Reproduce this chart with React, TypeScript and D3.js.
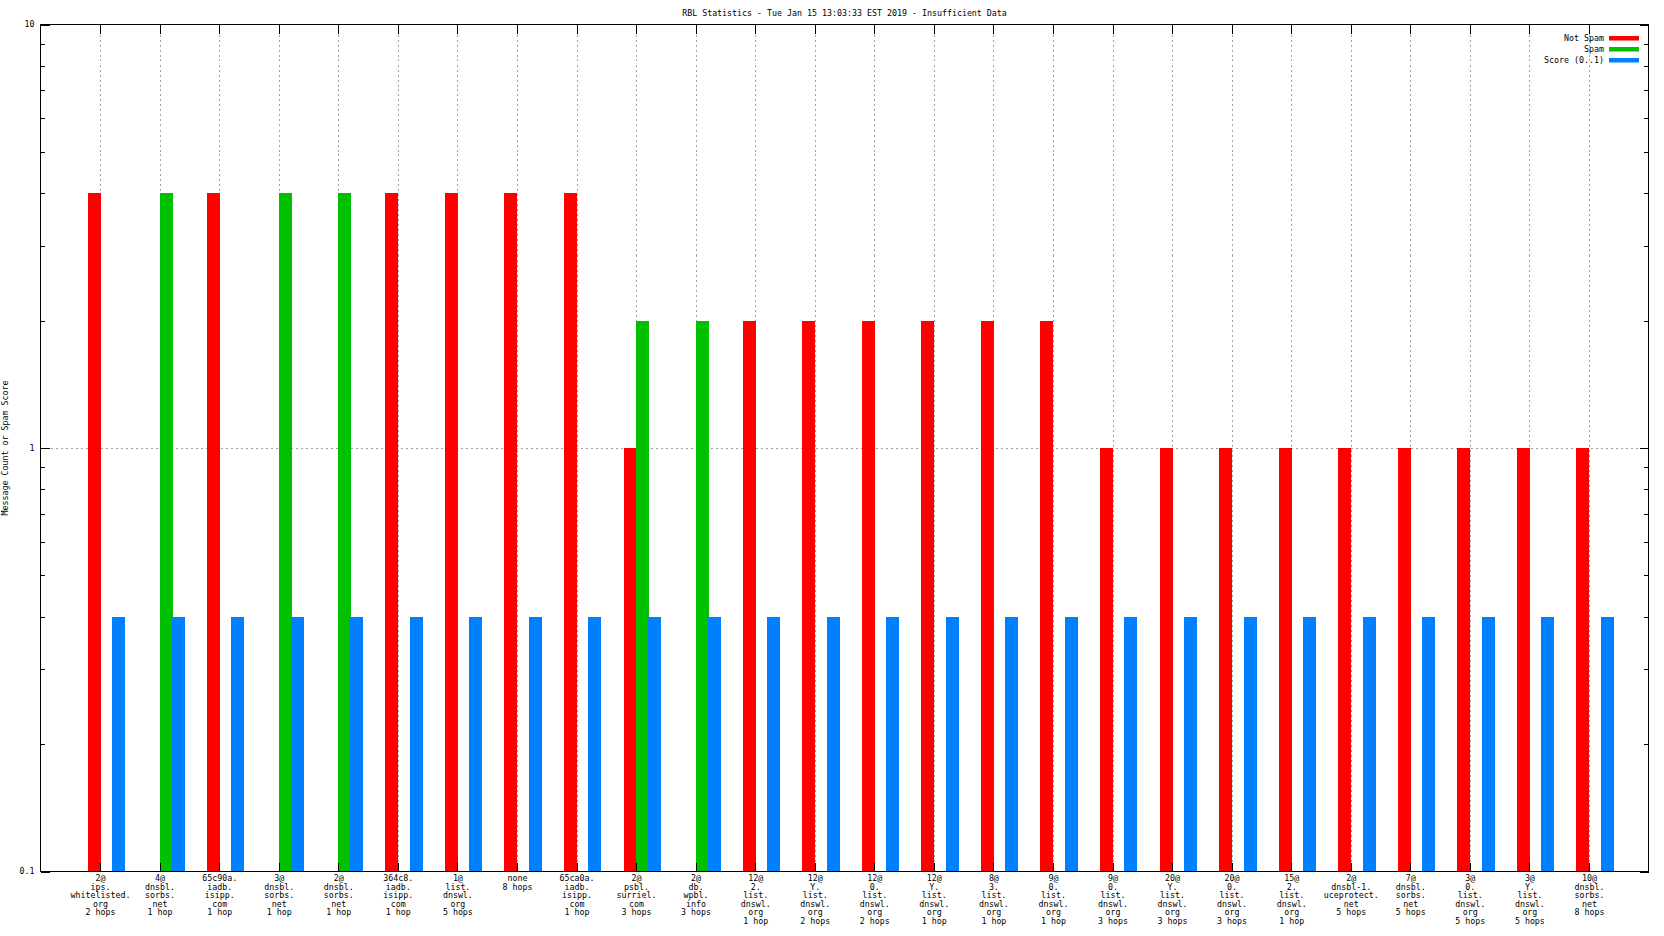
import React from "react";
import * as d3 from "d3";

const title = "RBL Statistics - Tue Jan 15 13:03:33 EST 2019 - Insufficient Data";
const yLabel = "Message Count or Spam Score";

const categories = [
  "2@\nips.\nwhitelisted.\norg\n2 hops",
  "4@\ndnsbl.\nsorbs.\nnet\n1 hop",
  "65c90a.\niadb.\nisipp.\ncom\n1 hop",
  "3@\ndnsbl.\nsorbs.\nnet\n1 hop",
  "2@\ndnsbl.\nsorbs.\nnet\n1 hop",
  "364c8.\niadb.\nisipp.\ncom\n1 hop",
  "1@\nlist.\ndnswl.\norg\n5 hops",
  "none\n8 hops",
  "65ca0a.\niadb.\nisipp.\ncom\n1 hop",
  "2@\npsbl.\nsurriel.\ncom\n3 hops",
  "2@\ndb.\nwpbl.\ninfo\n3 hops",
  "12@\n2.\nlist.\ndnswl.\norg\n1 hop",
  "12@\nY.\nlist.\ndnswl.\norg\n2 hops",
  "12@\n0.\nlist.\ndnswl.\norg\n2 hops",
  "12@\nY.\nlist.\ndnswl.\norg\n1 hop",
  "8@\n3.\nlist.\ndnswl.\norg\n1 hop",
  "9@\n0.\nlist.\ndnswl.\norg\n1 hop",
  "9@\n0.\nlist.\ndnswl.\norg\n3 hops",
  "20@\nY.\nlist.\ndnswl.\norg\n3 hops",
  "20@\n0.\nlist.\ndnswl.\norg\n3 hops",
  "15@\n2.\nlist.\ndnswl.\norg\n1 hop",
  "2@\ndnsbl-1.\nuceprotect.\nnet\n5 hops",
  "7@\ndnsbl.\nsorbs.\nnet\n5 hops",
  "3@\n0.\nlist.\ndnswl.\norg\n5 hops",
  "3@\nY.\nlist.\ndnswl.\norg\n5 hops",
  "10@\ndnsbl.\nsorbs.\nnet\n8 hops",
];

const notSpam = [4, 0, 4, 0, 0, 4, 4, 4, 4, 1, 0, 2, 2, 2, 2, 2, 2, 1, 1, 1, 1, 1, 1, 1, 1, 1];
const spam = [0, 4, 0, 4, 4, 0, 0, 0, 0, 2, 2, 0, 0, 0, 0, 0, 0, 0, 0, 0, 0, 0, 0, 0, 0, 0];
const score = [0.4, 0.4, 0.4, 0.4, 0.4, 0.4, 0.4, 0.4, 0.4, 0.4, 0.4, 0.4, 0.4, 0.4, 0.4, 0.4, 0.4, 0.4, 0.4, 0.4, 0.4, 0.4, 0.4, 0.4, 0.4, 0.4];

const yMajor = [0.1, 1, 10];
const yMajorLabels = ["0.1", "1", "10"];

const seriesNames = ["Not Spam", "Spam", "Score (0..1)"];
const seriesColors = ["#ff0000", "#00c000", "#0080ff"];

const W = 1664;
const H = 936;
const L = 40.5;
const R = 1648.5;
const T = 24.5;
const B = 871.5;
const FONT = "'DejaVu Sans Mono', monospace";

export default function App() {
  const x = d3.scaleLinear().domain([-1, 26]).range([L, R]);
  const y = d3.scaleLog().domain([0.1, 10]).range([B, T]);
  const unit = x(1) - x(0);
  const bw = 0.21 * unit;

  const minor: number[] = [];
  [0.1, 1].forEach((d) => {
    for (let k = 2; k <= 9; k++) minor.push(d * k);
  });

  const series = [notSpam, spam, score];
  const offsets = [-0.21, 0, 0.2];

  return (
    <svg
      width={W}
      height={H}
      style={{ position: "fixed", left: 0, top: 0, background: "#fff" }}
      fontFamily={FONT}
      fontSize={8.3}
    >
      <rect x={0} y={0} width={W} height={H} fill="#fff" />
      <g stroke="#a0a0a0" strokeWidth={1} strokeDasharray="2,3" shapeRendering="crispEdges">
        {categories.map((_, i) => (
          <line key={"gx" + i} x1={Math.round(x(i)) + 0.5} x2={Math.round(x(i)) + 0.5} y1={T} y2={B} />
        ))}
        <line x1={L} x2={R} y1={Math.round(y(1)) + 0.5} y2={Math.round(y(1)) + 0.5} />
      </g>
      <g shapeRendering="crispEdges">
        {series.map((vals, s) =>
          vals.map((v, i) =>
            v > 0 ? (
              <rect
                key={"b" + s + "-" + i}
                x={Math.round(x(i + offsets[s]))}
                y={y(v)}
                width={Math.round(bw)}
                height={y(0.1) - y(v)}
                fill={seriesColors[s]}
              />
            ) : null
          )
        )}
      </g>
      <rect x={L} y={T} width={R - L} height={B - T} fill="none" stroke="#000" strokeWidth={1} shapeRendering="crispEdges" />
      <g stroke="#000" strokeWidth={1} shapeRendering="crispEdges">
        {yMajor.map((v, i) => (
          <g key={"ym" + i}>
            <line x1={L} x2={L + 9} y1={Math.round(y(v)) + 0.5} y2={Math.round(y(v)) + 0.5} />
            <line x1={R} x2={R - 9} y1={Math.round(y(v)) + 0.5} y2={Math.round(y(v)) + 0.5} />
          </g>
        ))}
        {minor.map((v, i) => (
          <g key={"yn" + i}>
            <line x1={L} x2={L + 4.5} y1={Math.round(y(v)) + 0.5} y2={Math.round(y(v)) + 0.5} />
            <line x1={R} x2={R - 4.5} y1={Math.round(y(v)) + 0.5} y2={Math.round(y(v)) + 0.5} />
          </g>
        ))}
        {categories.map((_, i) => (
          <g key={"xt" + i}>
            <line x1={Math.round(x(i)) + 0.5} x2={Math.round(x(i)) + 0.5} y1={T} y2={T + 9} />
            <line x1={Math.round(x(i)) + 0.5} x2={Math.round(x(i)) + 0.5} y1={B} y2={B - 9} />
          </g>
        ))}
      </g>
      {yMajor.map((v, i) => (
        <text key={"yl" + i} x={34.5} y={y(v) + 2.8} textAnchor="end" fill="#000">
          {yMajorLabels[i]}
        </text>
      ))}
      {categories.map((c, i) => (
        <text key={"xl" + i} x={x(i)} y={881} textAnchor="middle" fill="#000">
          {c.split("\n").map((line, j) => (
            <tspan key={j} x={x(i) + 0.5} dy={j === 0 ? 0 : 8.5}>
              {line}
            </tspan>
          ))}
        </text>
      ))}
      <text x={(L + R) / 2} y={15.5} textAnchor="middle" fill="#000">
        {title}
      </text>
      <text transform={`translate(8,${(T + B) / 2}) rotate(-90)`} textAnchor="middle" fill="#000">
        {yLabel}
      </text>
      {seriesNames.map((n, i) => (
        <g key={"lg" + i}>
          <text x={1604} y={40.5 + i * 11} textAnchor="end" fill="#000">
            {n}
          </text>
          <rect x={1609} y={36 + i * 11} width={30} height={4.5} fill={seriesColors[i]} />
        </g>
      ))}
    </svg>
  );
}
